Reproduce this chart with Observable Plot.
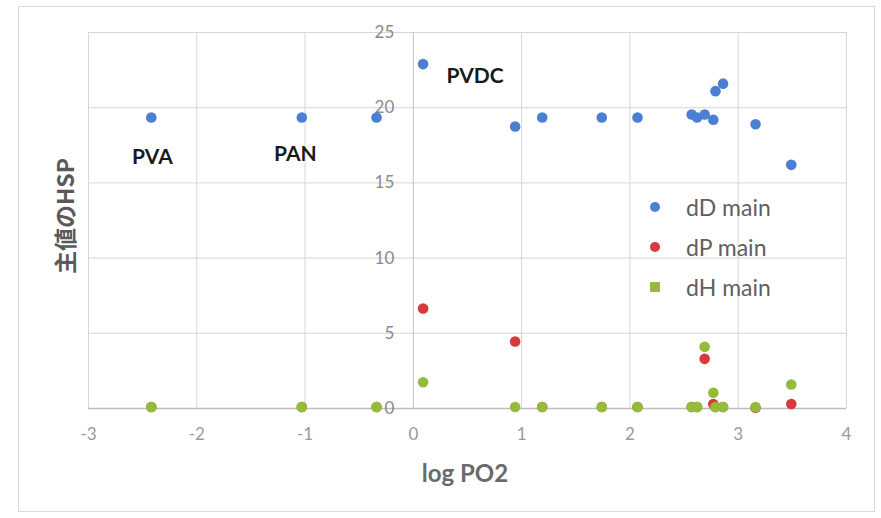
<!DOCTYPE html>
<html>
<head>
<meta charset="utf-8">
<script src="https://cdn.jsdelivr.net/npm/d3@7"></script>
<script src="https://cdn.jsdelivr.net/npm/@observablehq/plot@0.6"></script>
<style>
  html, body { margin: 0; padding: 0; background: #fff; }
  #wrap { position: relative; width: 881px; height: 518px; overflow: hidden; }
  #frame { position: absolute; left: 18px; top: 6px; width: 857px; height: 506px; border: 1px solid #d9d9d9; box-sizing: border-box; pointer-events: none; }
  #legend { position: absolute; left: 650px; top: 187px; font-family: Lato, "Open Sans", sans-serif; font-size: 23px; color: #606060; }
  #legend .row { display: flex; align-items: center; height: 40px; }
  #legend .m { width: 10px; height: 10px; margin-right: 26px; }
  #ytitle { position: absolute; left: 64px; top: 216px; transform: translate(-50%, -50%) rotate(-90deg); font-family: "Noto Sans CJK JP", sans-serif; font-weight: bold; font-size: 23px; color: #595959; white-space: nowrap; }
  #xtitle { position: absolute; left: 465px; top: 472px; transform: translate(-50%, -50%); font-family: Lato, "Open Sans", sans-serif; font-weight: bold; font-size: 24px; color: #6a6a6a; white-space: nowrap; }
</style>
</head>
<body>
<div id="wrap"></div>
<script>
// ---- data ----
const logPO2 = [-2.42, -1.03, -0.34, 0.09, 0.94, 1.19, 1.74, 2.07, 2.57, 2.62, 2.69, 2.77, 2.79, 2.86, 3.16, 3.49];
const dD     = [19.35, 19.35, 19.35, 22.9, 18.75, 19.35, 19.35, 19.35, 19.55, 19.35, 19.55, 19.2, 21.1, 21.6, 18.9, 16.2];
const dP     = [0.1, 0.1, 0.1, 6.65, 4.45, 0.1, 0.1, 0.1, 0.1, 0.1, 3.3, 0.3, 0.1, 0.1, 0.05, 0.3];
const dH     = [0.1, 0.1, 0.1, 1.75, 0.1, 0.1, 0.1, 0.1, 0.1, 0.1, 4.1, 1.05, 0.1, 0.1, 0.1, 1.6];

const seriesNames = ["dD main", "dP main", "dH main"];
const seriesColors = ["#4a7fd2", "#d8393c", "#95bb3a"];

const labelNames = ["PVA", "PAN", "PVDC"];
const labelX = [-2.41, -1.09, 0.57];
const labelY = [16.7, 16.9, 22.1];

const xTicks = [-3, -2, -1, 0, 1, 2, 3, 4];
const yTicks = [0, 5, 10, 15, 20, 25];

const xTitle = "log PO2";
const yTitle = "主値のHSP";

// ---- build ----
const seriesValues = [dD, dP, dH];
const points = [];
seriesValues.forEach((vals, s) => {
  vals.forEach((v, i) => points.push({x: logPO2[i], y: v, s: seriesNames[s]}));
});
const labels = labelNames.map((n, i) => ({n, x: labelX[i], y: labelY[i]}));

const font = "Lato, 'Open Sans', sans-serif";

const chart = Plot.plot({
  width: 881,
  height: 518,
  marginLeft: 88,
  marginRight: 35,
  marginTop: 32,
  marginBottom: 110,
  style: {fontFamily: font, background: "transparent"},
  x: {domain: [-3, 4], ticks: xTicks},
  y: {domain: [0, 25], ticks: yTicks},
  color: {domain: seriesNames, range: seriesColors},
  marks: [
    Plot.ruleX(xTicks, {stroke: "#d6d6d6", strokeWidth: 1}),
    Plot.ruleY(yTicks, {stroke: "#d6d6d6", strokeWidth: 1}),
    Plot.ruleX([0], {stroke: "#c8cad8", strokeWidth: 1}),
    Plot.ruleY([0], {stroke: "#bdbdbd", strokeWidth: 1.3}),
    Plot.text(yTicks, {x: 0, y: d => d, text: d => String(d), textAnchor: "end", dx: -19, fill: "#8a8a8a", fontSize: 17}),
    Plot.axisX({ticks: xTicks, tickSize: 0, tickPadding: 19, tickFormat: d => String(d), fontSize: 17, color: "#9a9a9a", label: null}),
    Plot.axisY({ticks: [], label: null}),
    Plot.dot(points, {x: "x", y: "y", fill: "s", r: 5.3, stroke: "none"}),
    Plot.text(labels, {x: "x", y: "y", text: "n", fontSize: 21, fontWeight: "bold", fill: "#1a1a1a"})
  ]
});

const wrap = document.getElementById("wrap");
wrap.appendChild(chart);

const frame = document.createElement("div");
frame.id = "frame";
wrap.appendChild(frame);

const yt = document.createElement("div");
yt.id = "ytitle"; yt.textContent = yTitle; wrap.appendChild(yt);
const xt = document.createElement("div");
xt.id = "xtitle"; xt.textContent = xTitle; wrap.appendChild(xt);

const legend = document.createElement("div");
legend.id = "legend";
seriesNames.forEach((n, i) => {
  const row = document.createElement("div");
  row.className = "row";
  const m = document.createElement("span");
  m.className = "m";
  m.style.background = seriesColors[i];
  m.style.borderRadius = i < 2 ? "50%" : "1px";
  const t = document.createElement("span");
  t.textContent = n;
  row.appendChild(m); row.appendChild(t);
  legend.appendChild(row);
});
wrap.appendChild(legend);
</script>
</body>
</html>
